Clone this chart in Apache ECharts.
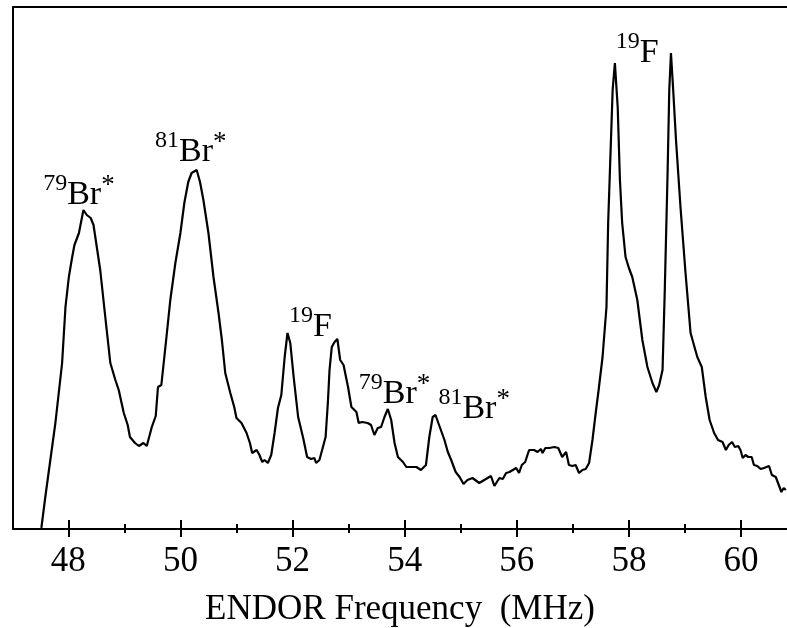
<!DOCTYPE html>
<html><head><meta charset="utf-8">
<script src="https://cdn.jsdelivr.net/npm/echarts@6/dist/echarts.min.js"></script>
<style>html,body{margin:0;padding:0;background:#fff}#c{width:787px;height:628px}</style>
</head><body><div id="c"></div>
<script>
// ENDOR spectrum: frequency (MHz) and intensity (arbitrary units)
const freq = [47.52,47.59,47.77,47.89,47.95,48.01,48.07,48.11,48.19,48.27,48.33,48.40,48.45,48.57,48.66,48.75,48.84,48.90,48.99,49.06,49.10,49.19,49.26,49.34,49.40,49.49,49.56,49.60,49.66,49.74,49.82,49.91,50.00,50.07,50.14,50.20,50.29,50.35,50.41,50.50,50.59,50.68,50.74,50.80,50.89,50.96,51.00,51.09,51.18,51.24,51.28,51.36,51.41,51.46,51.50,51.56,51.62,51.68,51.74,51.80,51.86,51.91,51.96,52.02,52.10,52.19,52.26,52.33,52.39,52.42,52.48,52.51,52.59,52.63,52.66,52.70,52.75,52.80,52.85,52.91,52.99,53.05,53.14,53.18,53.24,53.34,53.40,53.46,53.52,53.58,53.64,53.70,53.76,53.82,53.88,53.97,54.03,54.12,54.21,54.29,54.38,54.44,54.50,54.55,54.62,54.71,54.77,54.83,54.86,54.91,54.98,55.05,55.12,55.21,55.33,55.45,55.54,55.60,55.69,55.75,55.81,55.87,55.93,55.99,56.04,56.09,56.15,56.22,56.31,56.37,56.43,56.46,56.51,56.58,56.67,56.74,56.81,56.88,56.93,56.99,57.05,57.11,57.17,57.23,57.29,57.35,57.41,57.46,57.53,57.60,57.63,57.68,57.71,57.75,57.80,57.84,57.88,57.94,58.00,58.06,58.15,58.24,58.33,58.42,58.49,58.54,58.60,58.64,58.69,58.72,58.75,58.79,58.84,58.92,59.01,59.10,59.16,59.22,59.30,59.37,59.44,59.52,59.59,59.67,59.73,59.78,59.84,59.89,59.95,59.99,60.03,60.08,60.13,60.19,60.23,60.29,60.35,60.41,60.50,60.55,60.62,60.66,60.72,60.76,60.80];
const intensity = [1,32,106,166,222,252,272,284,296,319,314,311,304,259,212,166,149,139,116,104,92,86,83,86,83,102,113,142,144,186,229,266,296,326,347,356,359,347,329,296,252,216,189,156,136,122,111,106,96,86,76,79,74,67,69,66,74,96,121,134,172,196,186,152,112,91,72,70,71,66,69,67,92,126,159,182,187,190,169,164,142,122,117,106,107,106,104,94,101,102,112,120,109,86,72,67,62,62,62,59,64,92,112,114,103,89,77,69,67,57,52,45,49,51,46,50,53,43,51,50,56,57,59,61,56,64,67,79,79,77,80,76,81,81,82,81,72,77,64,63,64,56,59,60,66,89,117,139,172,222,306,389,439,466,422,349,306,272,261,252,229,189,162,146,137,144,159,239,356,439,476,439,389,322,256,196,184,172,162,132,109,96,89,87,79,84,87,82,83,79,71,74,72,72,64,63,60,61,63,54,52,46,37,41,39];

const majorTicks = [48,50,52,54,56,58,60];
const minorTicks = [49,51,53,55,57,59];
const xTitle = 'ENDOR Frequency  (MHz)';

// peak annotations
const labelFreq = [48.19,50.185,52.32,53.82,55.24,58.15];
const labelInt  = [337,380,205,138,123,479];
const labelMass = ['79','81','19','79','81','19'];
const labelElem = ['Br','Br','F','Br','Br','F'];
const labelStar = ['*','*','','*','*',''];

const FF = "'Liberation Serif','Times New Roman',serif";
const lineBlack = {color:'#000', width:2};
const xMin = 47.014, xMax = 60.82;

function xAx(extra){
  return Object.assign({
    type:'value', min:xMin, max:xMax, position:'bottom',
    splitLine:{show:false},
    axisLabel:{show:false},
    axisTick:{show:false},
    axisLine:{show:false, onZero:false}
  }, extra);
}

const chart = echarts.init(document.getElementById('c'), null, {renderer:'canvas'});
chart.setOption({
  animation:false,
  backgroundColor:'#fff',
  grid:{left:13, right:0, top:7, bottom:99, containLabel:false, outerBoundsMode:'none'},
  xAxis:[
    xAx({
      axisLine:{show:true, onZero:false, lineStyle:lineBlack},
      axisTick:{show:true, inside:true, length:9, lineStyle:lineBlack, customValues:majorTicks},
      axisLabel:{show:true, customValues:majorTicks, margin:15, fontSize:35, fontFamily:FF, color:'#000'},
      name:xTitle, nameLocation:'middle', nameGap:63,
      nameTextStyle:{fontSize:35, fontFamily:FF, color:'#000'}
    }),
    xAx({axisTick:{show:true, inside:false, length:8, lineStyle:lineBlack, customValues:majorTicks}}),
    xAx({axisTick:{show:true, inside:true, length:5, lineStyle:lineBlack, customValues:minorTicks}}),
    xAx({axisTick:{show:true, inside:false, length:4, lineStyle:lineBlack, customValues:minorTicks}}),
    xAx({position:'top', axisLine:{show:true, onZero:false, lineStyle:lineBlack}})
  ],
  yAxis:{
    type:'value', min:0, max:522,
    axisLine:{show:true, onZero:false, lineStyle:lineBlack},
    axisTick:{show:false}, axisLabel:{show:false}, splitLine:{show:false}
  },
  series:[
    {
      type:'line', xAxisIndex:0,
      data:freq.map((f,i)=>[f,intensity[i]]),
      showSymbol:false, symbol:'none', smooth:false,
      lineStyle:{color:'#000', width:2.2},
      silent:true
    },
    {
      type:'scatter', xAxisIndex:0,
      data:labelFreq.map((f,i)=>({value:[f,labelInt[i]], mass:labelMass[i], elem:labelElem[i], star:labelStar[i]})),
      symbolSize:1, itemStyle:{color:'#fff', opacity:1},
      silent:true,
      label:{
        show:true, position:'inside', color:'#000', opacity:1,
        textBorderWidth:0, textBorderColor:'transparent', textShadowBlur:0,
        formatter:function(p){
          const d = p.data;
          return '{sup|'+d.mass+'}{main|'+d.elem+'}'+(d.star?'{star|'+d.star+'}':'');
        },
        rich:{
          main:{fontSize:34, fontFamily:FF, color:'#000', lineHeight:40, verticalAlign:'bottom', textBorderWidth:0},
          sup:{fontSize:24, fontFamily:FF, color:'#000', lineHeight:24, verticalAlign:'top', textBorderWidth:0},
          star:{fontSize:27, fontFamily:FF, color:'#000', lineHeight:26, verticalAlign:'top', textBorderWidth:0}
        }
      }
    }
  ]
});
</script>
</body></html>
